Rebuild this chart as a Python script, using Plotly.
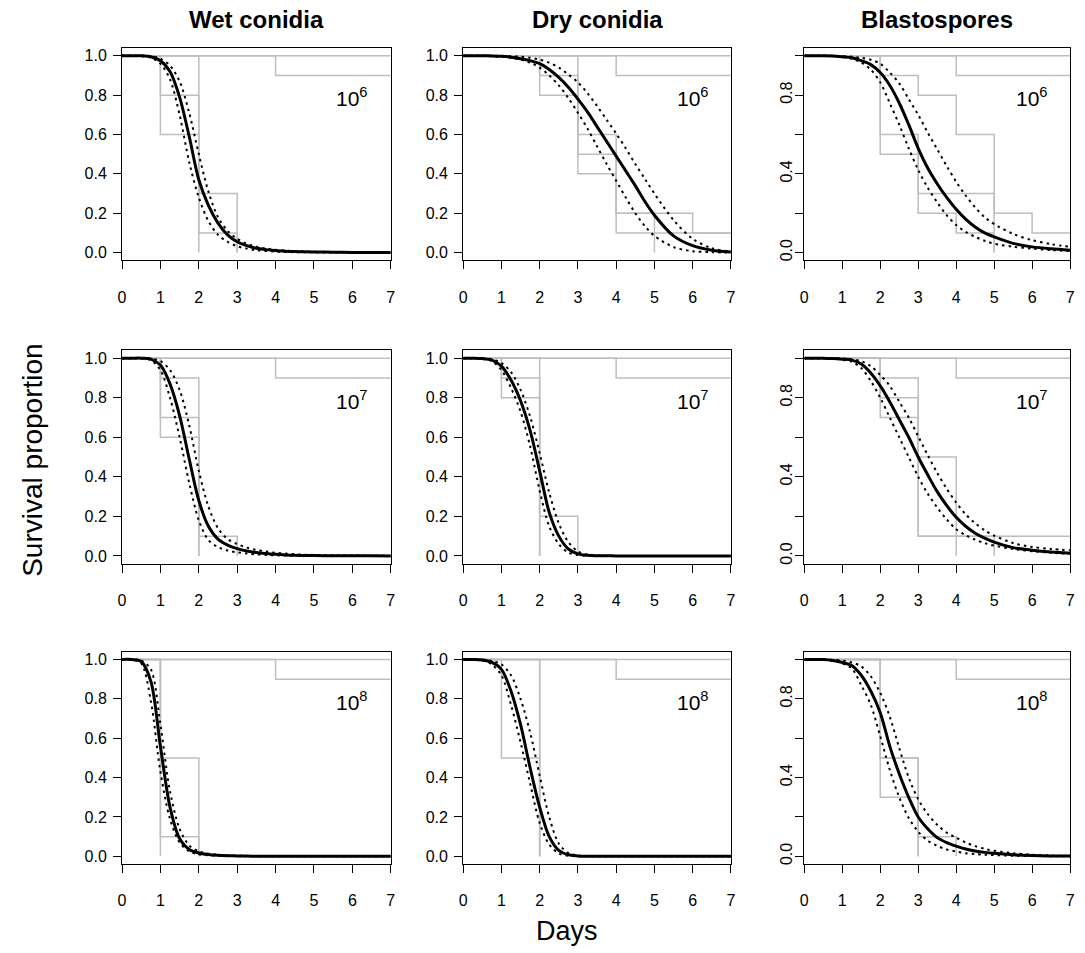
import plotly.graph_objects as go

# ---------------- data ----------------
DAYS = [0, 1, 2, 3, 4, 5, 6, 7]
T_FIT = [0, 0.25, 0.5, 0.75, 1, 1.25, 1.5, 1.75, 2, 2.25, 2.5, 2.75, 3, 3.25,
         3.5, 3.75, 4, 4.25, 4.5, 4.75, 5, 5.5, 6, 6.5, 7]
TYPES = ["Wet conidia", "Dry conidia", "Blastospores"]
DOSES = ["10<sup>6</sup>", "10<sup>7</sup>", "10<sup>8</sup>"]
X_TICKS = [0, 1, 2, 3, 4, 5, 6, 7]
Y_TICKS = [0.0, 0.2, 0.4, 0.6, 0.8, 1.0]
Y_LABELS = ["0.0", "0.2", "0.4", "0.6", "0.8", "1.0"]
Y_LABELS_SPARSE = ["0.0", "", "0.4", "", "0.8", ""]

# untreated controls (same in every panel)
CONTROL_STEPS = [[1, 1, 1, 1, 1, 1, 1, 1],
                 [1, 1, 1, 1, 0.9, 0.9, 0.9, 0.9]]

# replicate survival (value at each day)
WET6_STEPS = [[1, 0.8, 0.3, 0, 0, 0, 0, 0], [1, 0.6, 0.1, 0, 0, 0, 0, 0], [1, 1, 0, 0, 0, 0, 0, 0]]
DRY6_STEPS = [[1, 1, 1, 0.6, 0.2, 0.2, 0.1, 0.1], [1, 1, 0.9, 0.5, 0.2, 0, 0, 0], [1, 1, 0.8, 0.4, 0.1, 0.1, 0.1, 0.1]]
BLA6_STEPS = [[1, 1, 0.9, 0.8, 0.6, 0.2, 0.1, 0.1], [1, 1, 0.6, 0.3, 0.3, 0, 0, 0], [1, 1, 0.5, 0.2, 0.1, 0, 0, 0]]
WET7_STEPS = [[1, 0.9, 0, 0, 0, 0, 0, 0], [1, 0.7, 0.1, 0, 0, 0, 0, 0], [1, 0.6, 0, 0, 0, 0, 0, 0]]
DRY7_STEPS = [[1, 1, 0, 0, 0, 0, 0, 0], [1, 0.9, 0.2, 0, 0, 0, 0, 0], [1, 0.8, 0, 0, 0, 0, 0, 0]]
BLA7_STEPS = [[1, 1, 0.9, 0.5, 0, 0, 0, 0], [1, 1, 0.8, 0.1, 0.1, 0, 0, 0], [1, 1, 0.7, 0.1, 0.1, 0.1, 0.1, 0.1]]
WET8_STEPS = [[1, 0, 0, 0, 0, 0, 0, 0], [1, 0.5, 0, 0, 0, 0, 0, 0], [1, 0.1, 0, 0, 0, 0, 0, 0]]
DRY8_STEPS = [[1, 1, 0, 0, 0, 0, 0, 0], [1, 0.5, 0, 0, 0, 0, 0, 0], [1, 1, 0, 0, 0, 0, 0, 0]]
BLA8_STEPS = [[1, 1, 0.5, 0, 0, 0, 0, 0], [1, 1, 0.3, 0.1, 0, 0, 0, 0], [1, 1, 0.5, 0, 0, 0, 0, 0]]

# fitted survival curves (read at T_FIT) with lower / upper bands
WET6_FIT = [1, 1, 1, 0.995, 0.975, 0.92, 0.79, 0.59, 0.37, 0.24, 0.15, 0.09, 0.055, 0.035, 0.022, 0.015, 0.01, 0.007, 0.005, 0.004, 0.003, 0.002, 0.001, 0.0005, 0]
WET6_LO = [1, 1, 0.998, 0.99, 0.96, 0.88, 0.70, 0.46, 0.28, 0.16, 0.09, 0.055, 0.032, 0.02, 0.012, 0.008, 0.005, 0.003, 0.002, 0.0015, 0.001, 0.0005, 0.0003, 0.0001, 0]
WET6_HI = [1, 1, 1, 0.998, 0.985, 0.95, 0.87, 0.71, 0.50, 0.31, 0.18, 0.11, 0.07, 0.045, 0.03, 0.02, 0.014, 0.01, 0.007, 0.005, 0.004, 0.002, 0.001, 0.0005, 0.0002]

DRY6_FIT = [1, 1, 1, 0.999, 0.997, 0.993, 0.985, 0.975, 0.96, 0.93, 0.89, 0.84, 0.78, 0.715, 0.64, 0.565, 0.49, 0.415, 0.34, 0.26, 0.19, 0.085, 0.035, 0.012, 0.003]
DRY6_LO = [1, 1, 1, 0.998, 0.995, 0.99, 0.98, 0.965, 0.94, 0.90, 0.85, 0.785, 0.71, 0.63, 0.54, 0.45, 0.365, 0.28, 0.20, 0.135, 0.085, 0.028, 0.007, 0.002, 0]
DRY6_HI = [1, 1, 1, 1, 0.999, 0.997, 0.995, 0.99, 0.98, 0.965, 0.94, 0.905, 0.865, 0.81, 0.745, 0.675, 0.605, 0.53, 0.45, 0.375, 0.30, 0.165, 0.07, 0.022, 0.005]

BLA6_FIT = [1, 1, 1, 0.999, 0.995, 0.99, 0.975, 0.955, 0.915, 0.85, 0.76, 0.65, 0.53, 0.43, 0.35, 0.28, 0.22, 0.17, 0.13, 0.10, 0.08, 0.047, 0.029, 0.019, 0.012]
BLA6_LO = [1, 1, 1, 0.998, 0.993, 0.985, 0.965, 0.93, 0.865, 0.76, 0.65, 0.53, 0.42, 0.33, 0.255, 0.19, 0.14, 0.105, 0.08, 0.06, 0.045, 0.03, 0.02, 0.013, 0.008]
BLA6_HI = [1, 1, 1, 1, 0.998, 0.995, 0.99, 0.98, 0.96, 0.915, 0.86, 0.78, 0.70, 0.61, 0.525, 0.44, 0.36, 0.29, 0.23, 0.18, 0.145, 0.095, 0.063, 0.043, 0.029]

WET7_FIT = [1, 1, 1, 0.995, 0.965, 0.87, 0.71, 0.49, 0.28, 0.15, 0.085, 0.055, 0.037, 0.025, 0.017, 0.012, 0.008, 0.005, 0.003, 0.002, 0.0015, 0.001, 0.0005, 0.0002, 0]
WET7_LO = [1, 1, 0.999, 0.99, 0.94, 0.80, 0.60, 0.37, 0.18, 0.08, 0.045, 0.027, 0.018, 0.012, 0.008, 0.005, 0.003, 0.002, 0.0015, 0.001, 0.0007, 0.0004, 0.0002, 0.0001, 0]
WET7_HI = [1, 1, 1, 0.998, 0.985, 0.94, 0.84, 0.66, 0.43, 0.25, 0.14, 0.085, 0.06, 0.042, 0.03, 0.022, 0.016, 0.012, 0.008, 0.006, 0.005, 0.003, 0.002, 0.001, 0.0005]

DRY7_FIT = [1, 1, 0.998, 0.99, 0.96, 0.89, 0.785, 0.635, 0.43, 0.22, 0.10, 0.035, 0.01, 0.003, 0.001, 0.0005, 0, 0, 0, 0, 0, 0, 0, 0, 0]
DRY7_LO = [1, 1, 0.996, 0.985, 0.94, 0.85, 0.73, 0.555, 0.33, 0.15, 0.06, 0.017, 0.004, 0.001, 0, 0, 0, 0, 0, 0, 0, 0, 0, 0, 0]
DRY7_HI = [1, 1, 0.999, 0.995, 0.975, 0.93, 0.84, 0.705, 0.52, 0.32, 0.165, 0.07, 0.023, 0.007, 0.002, 0.0005, 0, 0, 0, 0, 0, 0, 0, 0, 0]

BLA7_FIT = [1, 1, 1, 0.998, 0.995, 0.99, 0.97, 0.925, 0.86, 0.78, 0.69, 0.60, 0.50, 0.41, 0.325, 0.255, 0.195, 0.15, 0.115, 0.09, 0.07, 0.042, 0.029, 0.02, 0.014]
BLA7_LO = [1, 1, 1, 0.997, 0.992, 0.982, 0.95, 0.885, 0.80, 0.70, 0.60, 0.50, 0.40, 0.315, 0.245, 0.185, 0.135, 0.105, 0.082, 0.065, 0.052, 0.035, 0.024, 0.016, 0.01]
BLA7_HI = [1, 1, 1, 1, 0.998, 0.995, 0.985, 0.96, 0.915, 0.86, 0.78, 0.70, 0.605, 0.51, 0.42, 0.34, 0.27, 0.21, 0.165, 0.13, 0.103, 0.065, 0.045, 0.035, 0.028]

WET8_FIT = [1, 1, 0.99, 0.89, 0.56, 0.25, 0.09, 0.035, 0.017, 0.009, 0.005, 0.003, 0.002, 0.001, 0.0005, 0, 0, 0, 0, 0, 0, 0, 0, 0, 0]
WET8_LO = [1, 1, 0.98, 0.79, 0.43, 0.19, 0.07, 0.025, 0.01, 0.005, 0.003, 0.002, 0.001, 0, 0, 0, 0, 0, 0, 0, 0, 0, 0, 0, 0]
WET8_HI = [1, 1, 0.995, 0.95, 0.67, 0.33, 0.14, 0.055, 0.025, 0.013, 0.008, 0.005, 0.003, 0.002, 0.001, 0, 0, 0, 0, 0, 0, 0, 0, 0, 0]

DRY8_FIT = [1, 1, 0.997, 0.985, 0.95, 0.84, 0.67, 0.45, 0.25, 0.10, 0.03, 0.008, 0.002, 0, 0, 0, 0, 0, 0, 0, 0, 0, 0, 0, 0]
DRY8_LO = [1, 1, 0.995, 0.975, 0.92, 0.77, 0.58, 0.37, 0.17, 0.06, 0.015, 0.003, 0.001, 0, 0, 0, 0, 0, 0, 0, 0, 0, 0, 0, 0]
DRY8_HI = [1, 1, 0.999, 0.993, 0.975, 0.92, 0.80, 0.63, 0.41, 0.20, 0.065, 0.017, 0.004, 0.001, 0, 0, 0, 0, 0, 0, 0, 0, 0, 0, 0]

BLA8_FIT = [1, 1, 1, 0.995, 0.985, 0.97, 0.92, 0.84, 0.73, 0.56, 0.42, 0.30, 0.20, 0.14, 0.095, 0.07, 0.052, 0.037, 0.027, 0.02, 0.015, 0.008, 0.004, 0.002, 0.001]
BLA8_LO = [1, 1, 0.999, 0.993, 0.98, 0.955, 0.87, 0.77, 0.61, 0.44, 0.30, 0.195, 0.125, 0.08, 0.053, 0.035, 0.024, 0.016, 0.011, 0.008, 0.006, 0.003, 0.0015, 0.0007, 0.0003]
BLA8_HI = [1, 1, 1, 0.998, 0.995, 0.985, 0.965, 0.915, 0.83, 0.71, 0.55, 0.40, 0.29, 0.215, 0.16, 0.12, 0.095, 0.07, 0.052, 0.038, 0.028, 0.016, 0.008, 0.004, 0.002]

# rows = doses, cols = spore types
PANELS = [
    [(WET6_STEPS, WET6_FIT, WET6_LO, WET6_HI), (DRY6_STEPS, DRY6_FIT, DRY6_LO, DRY6_HI), (BLA6_STEPS, BLA6_FIT, BLA6_LO, BLA6_HI)],
    [(WET7_STEPS, WET7_FIT, WET7_LO, WET7_HI), (DRY7_STEPS, DRY7_FIT, DRY7_LO, DRY7_HI), (BLA7_STEPS, BLA7_FIT, BLA7_LO, BLA7_HI)],
    [(WET8_STEPS, WET8_FIT, WET8_LO, WET8_HI), (DRY8_STEPS, DRY8_FIT, DRY8_LO, DRY8_HI), (BLA8_STEPS, BLA8_FIT, BLA8_LO, BLA8_HI)],
]

# ---------------- layout geometry (pixels) ----------------
W, H = 1085, 953
COL_PX = [(119, 390), (463, 733), (807, 1075)]
ROW_PX = [(47, 260), (350, 564), (652, 865)]
FONT = "Liberation Sans, Arial, Helvetica, sans-serif"
GRAY = "#BEBEBE"

fig = go.Figure()
layout = dict(
    width=W, height=H, margin=dict(l=0, r=0, t=0, b=0),
    paper_bgcolor="white", plot_bgcolor="white", showlegend=False,
    font=dict(family=FONT, color="black", size=16),
)
annotations = []


def step_xy(vals):
    xs, ys = [], []
    for d, v in zip(DAYS, vals):
        xs.append(d)
        ys.append(v)
        if v == 0:
            break
    return xs, ys


for r in range(3):
    for c in range(3):
        idx = r * 3 + c + 1
        xa = "x" if idx == 1 else f"x{idx}"
        ya = "y" if idx == 1 else f"y{idx}"
        steps, fit, lo, hi = PANELS[r][c]
        for rep in CONTROL_STEPS + steps:
            xs, ys = step_xy(rep)
            fig.add_trace(go.Scatter(x=xs, y=ys, mode="lines", xaxis=xa, yaxis=ya,
                                     line=dict(color=GRAY, width=1.5, shape="hv"),
                                     hoverinfo="skip"))
        for band in (lo, hi):
            fig.add_trace(go.Scatter(x=T_FIT, y=band, mode="lines", xaxis=xa, yaxis=ya,
                                     line=dict(color="black", width=2, dash="2.5px,4px",
                                               shape="spline", smoothing=0.9),
                                     hoverinfo="skip"))
        fig.add_trace(go.Scatter(x=T_FIT, y=fit, mode="lines", xaxis=xa, yaxis=ya,
                                 line=dict(color="black", width=3, shape="spline", smoothing=0.9),
                                 hoverinfo="skip"))

        x0, x1 = COL_PX[c]
        y0, y1 = ROW_PX[r]
        layout["xaxis" if idx == 1 else f"xaxis{idx}"] = dict(
            domain=[x0 / W, x1 / W], anchor=ya, range=[0, 7],
            tickvals=X_TICKS, ticktext=[str(t) for t in X_TICKS],
            ticks="outside", ticklen=8, tickwidth=1, tickcolor="black",
            showline=True, linecolor="black", linewidth=1, mirror=True,
            showgrid=False, zeroline=False, ticklabelstandoff=14,
            tickfont=dict(family=FONT, size=16, color="black"),
        )
        layout["yaxis" if idx == 1 else f"yaxis{idx}"] = dict(
            domain=[1 - y1 / H, 1 - y0 / H], anchor=xa, range=[-0.04, 1.04],
            tickvals=Y_TICKS, ticktext=(Y_LABELS_SPARSE if c == 2 else Y_LABELS),
            tickangle=(-90 if c == 2 else 0),
            ticks="outside", ticklen=8, tickwidth=1, tickcolor="black",
            showline=True, linecolor="black", linewidth=1, mirror=True,
            showgrid=False, zeroline=False, ticklabelstandoff=(-3 if c == 2 else 3),
            tickfont=dict(family=FONT, size=16, color="black"),
        )
        annotations.append(dict(x=6.0, y=0.79, xref=xa, yref=ya, text=DOSES[r],
                                showarrow=False, xanchor="center", yanchor="middle",
                                font=dict(family=FONT, size=21, color="black")))

for c in range(3):
    x0, x1 = COL_PX[c]
    annotations.append(dict(x=(x0 + x1) / 2 / W, y=1 - 19 / H, xref="paper", yref="paper",
                            text=f"<b>{TYPES[c]}</b>", showarrow=False,
                            xanchor="center", yanchor="middle",
                            font=dict(family=FONT, size=24, color="black")))

annotations.append(dict(x=28 / W, y=1 - 460 / H, xref="paper", yref="paper",
                        text="Survival proportion", textangle=-90, showarrow=False,
                        xanchor="center", yanchor="middle",
                        font=dict(family=FONT, size=28, color="black")))
annotations.append(dict(x=568 / W, y=1 - 932 / H, xref="paper", yref="paper",
                        text="Days", showarrow=False, xanchor="center", yanchor="middle",
                        font=dict(family=FONT, size=27, color="black")))

layout["annotations"] = annotations
fig.update_layout(**layout)
fig.write_html("out.html", config={"displayModeBar": False},
               post_script="document.body.style.margin='0px';document.body.style.padding='0px';document.body.style.overflow='hidden';")
